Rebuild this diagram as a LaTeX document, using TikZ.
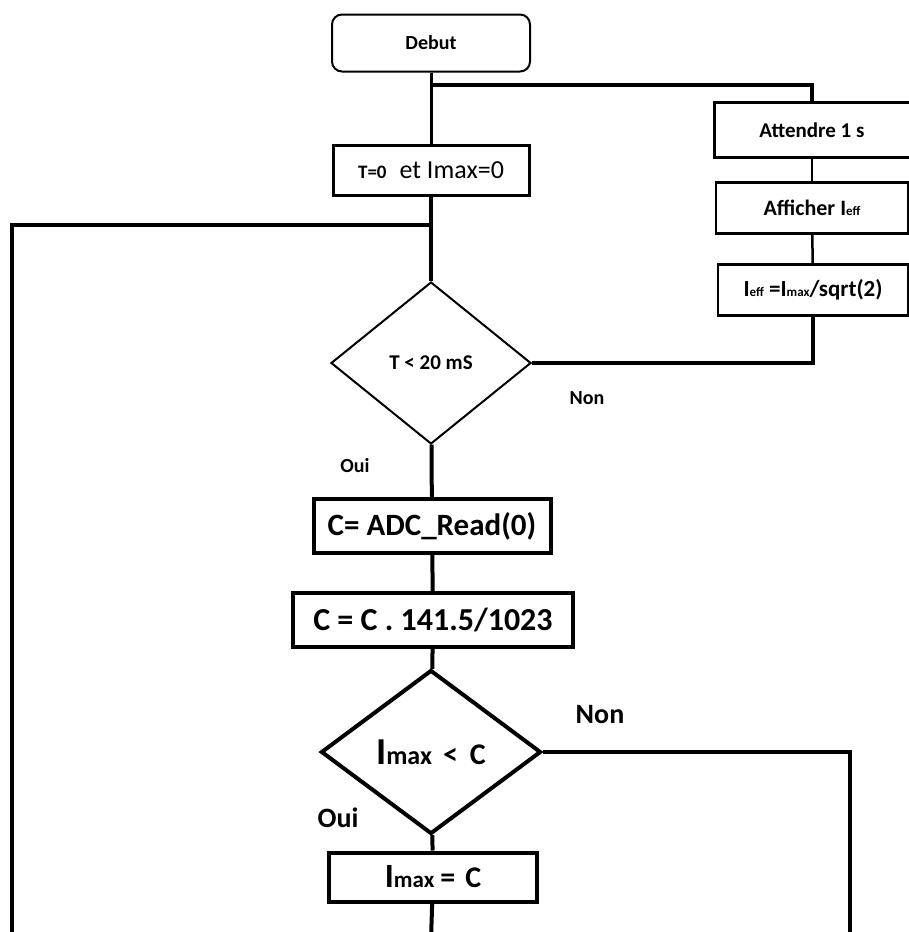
\documentclass[tikz,border=0pt]{standalone}
\usepackage{fontspec}
\setmainfont{Carlito}
\usetikzlibrary{shapes,positioning}

\newcommand{\fs}[1]{\fontsize{#1}{#1}\selectfont}

\begin{document}
\begin{tikzpicture}[x=1pt,y=-1pt,font=\bfseries]
\tikzstyle{bx}=[rectangle,draw=black,line width=4pt,inner sep=0pt,align=center]
\tikzstyle{tst}=[diamond,draw=black,line width=4pt,inner sep=0pt,align=center]
\tikzstyle{ln}=[line width=4pt]

\useasboundingbox (0,0) rectangle (908,932);

% main column
\node[bx, rounded corners=10pt, line width=2pt, minimum width=198, minimum height=57] (debut) at (431,43) {\fs{20}Debut};
\node[bx, line width=3pt, minimum width=196, minimum height=50] (init) at (431,170)
  {\fs{19}T=0\hspace{13pt}{\mdseries\fs{26}et Imax=0}};
\node[tst, line width=2pt, minimum width=200, minimum height=162] (test1) at (431,363) {\fs{21}T < 20 mS};
\node[bx, minimum width=237, minimum height=54] (read) at (432,526) {\fs{31}C= ADC\_Read(0)};
\node[bx, minimum width=280, minimum height=54] (conv) at (433,620) {\fs{32}C = C . 141.5/1023};
\node[tst, minimum width=220, minimum height=164] (test2) at (431,752)
  {\fs{38}I{\fs{26}max}\hspace{11pt}{\fs{30}<\hspace{12pt}C}};
\node[bx, minimum width=208, minimum height=49] (maj) at (433,877)
  {\fs{34}I{\fs{23}max}\hspace{6pt}{\fs{30}=\hspace{10pt}C}};

% right column (Non branch of the first test)
\node[bx, line width=3pt, minimum width=196, minimum height=55] (attendre) at (812,130) {\fs{21}Attendre 1 s};
\node[bx, line width=2.5pt, minimum width=192, minimum height=51] (afficher) at (812,208)
  {\fs{22}Afficher I{\fs{13}eff}};
\node[bx, line width=2.5pt, minimum width=190, minimum height=51] (ieff) at (813,290)
  {\fs{23}I{\fs{13}eff} =I{\fs{13}max}/sqrt(2)};

% branch labels
\node[font=\bfseries\fs{20}] (non1) at (587,398) {Non};
\node[font=\bfseries\fs{20}] (oui1) at (355,466) {Oui};
\node[font=\bfseries\fs{28}] (non2) at (600,715) {Non};
\node[font=\bfseries\fs{28}] (oui2) at (338,818) {Oui};

\coordinate (jtop)  at (431,85);
\coordinate (jloop) at (431,225);
\coordinate (endl)  at (12,940);
\coordinate (endc)  at (431,940);
\coordinate (endr)  at (850,940);

\draw[line width=3pt] (debut) -- (init);
\draw[ln] (jtop) -| (attendre.north);
\draw[line width=2pt] (attendre) -- (afficher);
\draw[line width=2.5pt] (afficher) -- (ieff);
\draw[ln] (test1.east) -| (ieff.south);
\draw[ln] (init) -- (test1);
\draw[ln] (endl) |- (jloop);
\draw[ln] (test1) -- (read);
\draw[ln] (read) -- (conv);
\draw[ln] (conv) -- (test2);
\draw[ln] (test2) -- (maj);
\draw[ln] (maj) -- (endc);
\draw[ln] (test2.east) -| (endr);
\end{tikzpicture}
\end{document}
